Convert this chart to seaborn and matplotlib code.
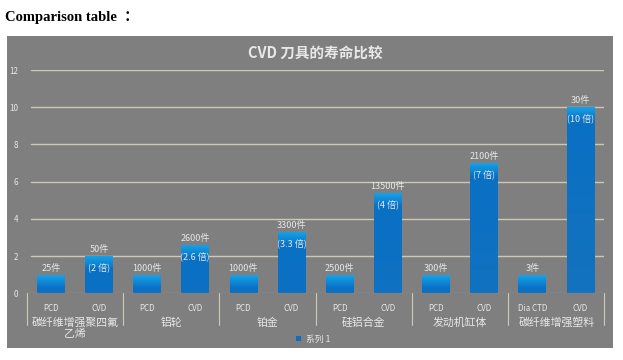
import numpy as np
import pandas as pd
import matplotlib
matplotlib.use("Agg")
import matplotlib.pyplot as plt
import matplotlib.transforms as mtransforms
from matplotlib.colors import LinearSegmentedColormap
from matplotlib.patches import Rectangle
import seaborn as sns

# dados
grupos = ['碳纤维增强聚四氟\n乙烯', '铝轮', '铂金', '硅铝合金', '发动机缸体', '碳纤维增强塑料']
ferramentas = ['PCD', 'CVD', 'PCD', 'CVD', 'PCD', 'CVD', 'PCD', 'CVD', 'PCD', 'CVD', 'Dia CTD', 'CVD']
valores = [1, 2, 1, 2.6, 1, 3.3, 1, 5.4, 1, 7, 1, 10]
pecas = ['25件', '50件', '1000件', '2600件', '1000件', '3300件',
         '2500件', '13500件', '300件', '2100件', '3件', '30件']
vezes = ['(2 倍)', '(2.6 倍)', '(3.3 倍)', '(4 倍)', '(7 倍)', '(10 倍)']
yticks = [0, 2, 4, 6, 8, 10, 12]

df = pd.DataFrame({'pos': np.arange(len(valores)), 'valor': valores})

sns.set_theme(style="white")
plt.rcParams['font.family'] = ['Noto Sans CJK SC', 'DejaVu Sans']

cinza = '#7f7f7f'
texto = '#e8e8e8'
grade = '#cdc9b4'

W, H = 623, 360
fig = plt.figure(figsize=(W / 100, H / 100), dpi=100)
fig.patch.set_facecolor('white')
# fundo cinza do gráfico
fig.patches.append(Rectangle((7 / W, 1 - 348 / H), (613 - 7) / W, (348 - 36) / H,
                             transform=fig.transFigure, facecolor=cinza,
                             edgecolor='none', zorder=-10))

x0, x1 = 26.7, 604.5
y0, y12 = 293.3, 70
ax = fig.add_axes([x0 / W, 1 - y0 / H, (x1 - x0) / W, (y0 - y12) / H])
ax.set_facecolor('none')

sns.barplot(data=df, x='pos', y='valor', color='#0a6ec2', width=0.575,
            label='系列 1', ax=ax, zorder=3, linewidth=0, edgecolor='none',
            saturation=1)

# degradê nas barras
cmap = LinearSegmentedColormap.from_list('azul', ['#16a6ec', '#0a70c4', '#1272bf'])
for p in ax.patches:
    bx, by = p.get_x(), p.get_y()
    bw, bh = p.get_width(), p.get_height()
    ys = np.linspace(by + bh, by, 200)
    dist = (by + bh) - ys
    vals = np.clip(dist / 0.75, 0, 1) * 0.5 + 0.5 * np.clip((dist - 0.75) / 8, 0, 1)
    img = ax.imshow(vals[:, None], extent=[bx, bx + bw, by, by + bh], aspect='auto',
                    cmap=cmap, vmin=0, vmax=1, zorder=4, origin='upper')
    img.set_clip_path(p)

ax.set_xlim(-0.5, len(valores) - 0.5)
ax.set_ylim(0, 12)
ax.set_yticks(yticks)
ax.set_yticklabels([str(t) for t in yticks])
ax.tick_params(axis='y', length=0, pad=6, labelsize=5.8, labelcolor=texto)
ax.set_xticks(np.arange(len(ferramentas)))
ax.set_xticklabels(ferramentas)
ax.tick_params(axis='x', length=0, pad=8, labelsize=5.8, labelcolor=texto)
ax.set_xlabel('')
ax.set_ylabel('')
for s in ax.spines.values():
    s.set_visible(False)

for t in yticks[1:]:
    ax.axhline(t, xmin=(31 - x0) / (x1 - x0), xmax=1, color=grade, lw=1, zorder=1)
ax.axhline(0, color=grade, lw=0.8, zorder=5)

# separadores entre grupos
trans = mtransforms.blended_transform_factory(ax.transData, ax.transAxes)
for k in range(len(grupos) + 1):
    xs = 2 * k - 0.5
    ax.plot([xs, xs], [0, -0.14], color=grade, lw=0.8, transform=trans, clip_on=False)

for i, g in enumerate(grupos):
    ax.text(2 * i + 0.5, -0.108, g, transform=trans, ha='center', va='top',
            fontsize=7.8, color=texto, linespacing=1.1)

# rótulos das barras
for i, (v, lab) in enumerate(zip(valores, pecas)):
    ax.annotate(lab, (i, v), xytext=(0, 1.5), textcoords='offset points',
                ha='center', va='bottom', fontsize=6.5, color=texto, zorder=6)
for j, lab in enumerate(vezes):
    i = 2 * j + 1
    ax.annotate(lab, (i, valores[i]), xytext=(0, -9), textcoords='offset points',
                ha='center', va='center', fontsize=6.5, color=texto, zorder=6)

ax.set_title('CVD 刀具的寿命比较', fontsize=10.5, fontweight='bold', color=texto, pad=9)

leg = ax.legend(loc='center', bbox_to_anchor=(313 / W, 1 - 339 / H),
                bbox_transform=fig.transFigure, frameon=False, fontsize=6.3,
                handlelength=0.6, handleheight=0.6, handletextpad=0.6)
for t in leg.get_texts():
    t.set_color(texto)

fig.text(5 / W, 1 - 18 / H, 'Comparison table  ：', fontsize=10.5, fontweight='bold',
         family=['Liberation Serif', 'Noto Sans CJK SC'], color='black', va='center')

fig.savefig('out.png', dpi=100)
